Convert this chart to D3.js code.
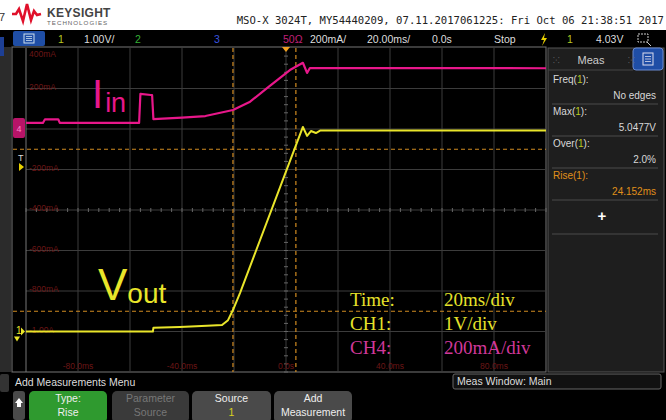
<!DOCTYPE html>
<html>
<head>
<meta charset="utf-8">
<script src="https://cdn.jsdelivr.net/npm/d3@7"></script>
<style>
	body { margin: 0; background: #fff; }
	svg { display: block; font-family: "Liberation Sans", Arial, sans-serif; }
</style>
</head>
<body>
<div id="scope"></div>
<script>
'use strict'
// traces (time in ms)
var iinTime = [-100, -93.5, -92.7, -87.6, -87.0, -56.5, -56.0, -52.0, -51.5, -51.0, -40, -31, -20.4, -13.8, -7.3, 1.5, 6.5, 8.1, 9.2, 100];
var iinMa = [30, 30, 48, 48, 30, 30, 173, 168, 168, 49, 56, 64, 94, 135, 202, 291, 327, 277, 301, 300];
var voutTime = [-100, -51.2, -51, -40.8, -30.4, -24.6, -22.3, -20.4, -17.7, 6.5, 8.1, 9.6, 11.5, 13.1, 100];
var voutV = [0, 0, 0.09, 0.11, 0.14, 0.16, 0.28, 0.53, 0.95, 5.05, 4.83, 4.95, 4.9, 4.96, 4.96];

var timeTicks = [-80, -40, 0, 40, 80];
var timeLabels = ["-80.0ms", "-40.0ms", "0.0s", "40.0ms", "80.0ms"];
var ch4Ticks = [400, 200, -200, -400, -600, -800, -1000];
var ch4Labels = ["400mA", "200mA", "-200mA", "-400mA", "-600mA", "-800mA", "-1.00A"];
var timeCursors = [-20.4, 3.8];
var voltCursors = [0.5, 4.5];

var noteKeys = ["Time:", "CH1:", "CH4:"];
var noteVals = ["20ms/div", "1V/div", "200mA/div"];

var measNames = ["Freq", "Max", "Over", "Rise"];
var measValues = ["No edges", "5.0477V", "2.0%", "24.152ms"];

var W = 666, H = 420;
var gx0 = 26, gx1 = 546, gy0 = 48, gy1 = 372;
var pink = "#e8178a", yellow = "#e9e52a", cursorCol = "#d08a20";

var x = d3.scaleLinear().domain([-100, 100]).range([gx0, gx1]);
var y1 = d3.scaleLinear().domain([-1, 7]).range([gy1, gy0]);
var y4 = d3.scaleLinear().domain([-1200, 400]).range([gy1, gy0]);

var svg = d3.select("#scope").append("svg").attr("width", W).attr("height", H);

// header
svg.append("rect").attr("width", W).attr("height", 30).attr("fill", "#fff");
svg.append("text").attr("x", -1).attr("y", 21).attr("font-size", 11).attr("fill", "#333").text("7");
svg.append("path")
	.attr("d", "M12,14 L16,14 L19,9 L23,21 L27,4 L31,20 L34,11 L37,15 L41,14")
	.attr("fill", "none").attr("stroke", "#e0102a").attr("stroke-width", 2.6).attr("stroke-linejoin", "miter");
svg.append("text").attr("x", 47).attr("y", 17).attr("font-size", 12).attr("font-weight", "bold")
	.attr("fill", "#444").attr("letter-spacing", 0.3).text("KEYSIGHT");
svg.append("text").attr("x", 47).attr("y", 24.5).attr("font-size", 6.2).attr("fill", "#666")
	.attr("letter-spacing", 1).text("TECHNOLOGIES");
svg.append("text").attr("x", 664).attr("y", 24).attr("text-anchor", "end")
	.attr("font-family", "DejaVu Sans Mono, monospace").attr("font-size", 10.6).attr("fill", "#222")
	.text("MSO-X 3024T, MY54440209, 07.11.2017061225: Fri Oct 06 21:38:51 2017");

// screen background
svg.append("rect").attr("y", 30).attr("width", W).attr("height", H - 30).attr("fill", "#000");
svg.append("rect").attr("x", 0).attr("y", 47).attr("width", 11).attr("height", 325).attr("fill", "#2b2b2b");
svg.append("rect").attr("x", 0).attr("y", 37).attr("width", 4).attr("height", 19).attr("fill", "#1d3f95");
svg.append("rect").attr("x", 0).attr("y", 374).attr("width", 9).attr("height", 18).attr("rx", 2).attr("fill", "#333");

// status bar
var sb = svg.append("g").attr("font-size", 10.5);
sb.append("rect").attr("x", 13).attr("y", 31).attr("width", 32).attr("height", 15).attr("rx", 2).attr("fill", "#1f4ea6");
sb.append("rect").attr("x", 24).attr("y", 34).attr("width", 10).attr("height", 9).attr("fill", "none").attr("stroke", "#cde").attr("stroke-width", 1);
[36.5, 38.5, 40.5].forEach(function(yy){
	sb.append("line").attr("x1", 26).attr("x2", 32).attr("y1", yy).attr("y2", yy).attr("stroke", "#cde").attr("stroke-width", 0.8);
});
var statusItems = [
	[58, "1", "#b8c820"], [84, "1.00V/", "#ddd"], [135, "2", "#35b035"], [214, "3", "#3a55e0"],
	[283, "50\u03A9", "#c0207a"], [310, "200mA/", "#ddd"], [367, "20.00ms/", "#ddd"],
	[432, "0.0s", "#ddd"], [494, "Stop", "#ddd"], [567, "1", "#b8c820"], [596, "4.03V", "#ddd"]
];
statusItems.forEach(function(s){
	sb.append("text").attr("x", s[0]).attr("y", 43).attr("fill", s[2]).text(s[1]);
});
sb.append("path").attr("d", "M545,33 L541,40 L544,40 L542,46 L547,38 L544,38 Z").attr("fill", "#e8d000");
sb.append("rect").attr("x", 638).attr("y", 34).attr("width", 10).attr("height", 8)
	.attr("fill", "none").attr("stroke", "#ccc").attr("stroke-dasharray", "2,1");
sb.append("path").attr("d", "M647,42 L651,46").attr("stroke", "#ccc");

// graticule
var grid = svg.append("g");
grid.append("rect").attr("x", 12).attr("y", 47).attr("width", gx1 - 12).attr("height", gy1 - 47)
	.attr("fill", "none").attr("stroke", "#777").attr("stroke-width", 1);
d3.range(-80, 100, 20).forEach(function(t){
	grid.append("line").attr("x1", x(t)).attr("x2", x(t)).attr("y1", gy0).attr("y2", gy1)
		.attr("stroke", "#3c3c3c").attr("stroke-width", 1);
});
d3.range(0, 7, 1).forEach(function(v){
	grid.append("line").attr("x1", gx0).attr("x2", gx1).attr("y1", y1(v)).attr("y2", y1(v))
		.attr("stroke", "#3c3c3c").attr("stroke-width", 1);
});
grid.append("line").attr("x1", gx0).attr("x2", gx0).attr("y1", gy0).attr("y2", gy1).attr("stroke", "#777");
// minor ticks on centre lines
d3.range(-100, 100.1, 4).forEach(function(t){
	grid.append("line").attr("x1", x(t)).attr("x2", x(t)).attr("y1", y1(3) - 2).attr("y2", y1(3) + 2).attr("stroke", "#666");
});
d3.range(-1, 7.01, 0.2).forEach(function(v){
	grid.append("line").attr("x1", x(0) - 2).attr("x2", x(0) + 2).attr("y1", y1(v)).attr("y2", y1(v)).attr("stroke", "#666");
});

// dim axis labels
var lab = svg.append("g").attr("font-size", 8.5).attr("fill", "#6b1616");
ch4Ticks.forEach(function(v, i){
	lab.append("text").attr("x", 29).attr("y", Math.max(y4(v) + 1, 57)).text(ch4Labels[i]);
});
timeTicks.forEach(function(t, i){
	lab.append("text").attr("x", x(t)).attr("y", 369).attr("text-anchor", "middle").text(timeLabels[i]);
});

// cursors
timeCursors.forEach(function(t){
	svg.append("line").attr("x1", x(t)).attr("x2", x(t)).attr("y1", gy0).attr("y2", gy1)
		.attr("stroke", cursorCol).attr("stroke-width", 1.2).attr("stroke-dasharray", "4,3");
});
voltCursors.forEach(function(v){
	svg.append("line").attr("x1", 13).attr("x2", gx1).attr("y1", y1(v)).attr("y2", y1(v))
		.attr("stroke", cursorCol).attr("stroke-width", 1.2).attr("stroke-dasharray", "4,3");
});
svg.append("path").attr("d", "M" + (x(0) - 4) + ",47 L" + (x(0) + 4) + ",47 L" + x(0) + ",52 Z").attr("fill", "#f0a020");

// traces
var lineI = d3.line().x(function(d){ return x(d[0]); }).y(function(d){ return y4(d[1]); });
var lineV = d3.line().x(function(d){ return x(d[0]); }).y(function(d){ return y1(d[1]); });
svg.append("path").datum(d3.zip(voutTime, voutV)).attr("d", lineV)
	.attr("fill", "none").attr("stroke", yellow).attr("stroke-width", 2).attr("stroke-linejoin", "round");
svg.append("path").datum(d3.zip(iinTime, iinMa)).attr("d", lineI)
	.attr("fill", "none").attr("stroke", pink).attr("stroke-width", 2.2).attr("stroke-linejoin", "round");

// channel markers
svg.append("rect").attr("x", 13).attr("y", y4(0) - 11).attr("width", 12).attr("height", 20).attr("rx", 2).attr("fill", "#b81468");
svg.append("text").attr("x", 19).attr("y", y4(0) + 3).attr("text-anchor", "middle").attr("font-size", 9).attr("fill", "#f8c").text("4");
svg.append("text").attr("x", 16).attr("y", y1(0) + 2).attr("font-size", 10).attr("fill", yellow).text("1");
svg.append("path").attr("d", "M21," + (y1(0) - 4) + " L25," + y1(0) + " L21," + (y1(0) + 4) + " Z").attr("fill", yellow);
svg.append("path").attr("d", "M14," + (y1(0) + 5) + " L20," + (y1(0) + 5) + " L17," + (y1(0) + 10) + " Z").attr("fill", yellow);
svg.append("text").attr("x", 18).attr("y", 161).attr("font-size", 9).attr("fill", "#ddd").text("T");
svg.append("path").attr("d", "M19,163 L24,167 L19,171 Z").attr("fill", "#e8d000");

// channel names
var iin = svg.append("text").attr("x", 92).attr("y", 108).attr("fill", pink);
iin.append("tspan").attr("font-size", 40).text("I");
iin.append("tspan").attr("font-size", 27).attr("dy", 4).attr("dx", 2).text("in");
var vout = svg.append("text").attr("x", 98).attr("y", 300).attr("fill", yellow);
vout.append("tspan").attr("font-size", 44).text("V");
vout.append("tspan").attr("font-size", 28).attr("dy", 3).text("out");

// scale note
var note = svg.append("g").attr("font-family", "Liberation Serif, Times New Roman, serif").attr("font-size", 19);
noteKeys.forEach(function(k, i){
	var c = i == 2 ? "#d0389a" : "#e6e22a";
	note.append("text").attr("x", 350).attr("y", 306 + i * 24).attr("fill", c).text(k);
	note.append("text").attr("x", 444).attr("y", 306 + i * 24).attr("fill", c).text(noteVals[i]);
});

// measurement panel
var mp = svg.append("g").attr("font-size", 10);
mp.append("rect").attr("x", 548).attr("y", 48).attr("width", 116).attr("height", 324).attr("fill", "#1e1e1e")
	.attr("stroke", "#555");
mp.append("rect").attr("x", 633).attr("y", 48).attr("width", 30).attr("height", 22).attr("rx", 3).attr("fill", "#1f4ea6").attr("stroke", "#6a8ad0");
mp.append("rect").attr("x", 643).attr("y", 53).attr("width", 10).attr("height", 12).attr("fill", "none").attr("stroke", "#dde");
[56.5, 59, 61.5].forEach(function(yy){
	mp.append("line").attr("x1", 645).attr("x2", 651).attr("y1", yy).attr("y2", yy).attr("stroke", "#dde").attr("stroke-width", 0.8);
});
mp.append("text").attr("x", 591).attr("y", 64).attr("text-anchor", "middle").attr("font-size", 11).attr("fill", "#ccc").text("Meas");
[553, 628].forEach(function(gxp){
	mp.append("text").attr("x", gxp).attr("y", 63).attr("font-size", 8).attr("fill", "#777").text("\u2059");
});
mp.append("line").attr("x1", 548).attr("x2", 633).attr("y1", 70).attr("y2", 70).attr("stroke", "#444");
measNames.forEach(function(n, i){
	var base = 83 + i * 32;
	var c = i == 3 ? "#e0901a" : "#d8d8d8";
	var t = mp.append("text").attr("x", 553).attr("y", base).attr("fill", c);
	t.append("tspan").text(n + "(");
	t.append("tspan").attr("fill", i == 3 ? "#e0901a" : "#b8c820").text("1");
	t.append("tspan").text("):");
	mp.append("text").attr("x", 656).attr("y", base + 16).attr("text-anchor", "end").attr("fill", c).text(measValues[i]);
	mp.append("line").attr("x1", 552).attr("x2", 658).attr("y1", base + 21).attr("y2", base + 21).attr("stroke", "#4a4a4a");
});
mp.append("text").attr("x", 602).attr("y", 221).attr("text-anchor", "middle").attr("font-size", 15).attr("font-weight", "bold").attr("fill", "#fff").text("+");
mp.append("line").attr("x1", 552).attr("x2", 658).attr("y1", 234).attr("y2", 234).attr("stroke", "#4a4a4a");

// bottom menu
var bm = svg.append("g").attr("font-size", 10.5);
bm.append("text").attr("x", 15).attr("y", 386).attr("fill", "#ddd").text("Add Measurements Menu");
bm.append("rect").attr("x", 453).attr("y", 374).attr("width", 208).attr("height", 15).attr("rx", 2)
	.attr("fill", "#111").attr("stroke", "#666");
bm.append("text").attr("x", 457).attr("y", 385).attr("fill", "#ddd").text("Meas Window: Main");
bm.append("rect").attr("x", 13).attr("y", 391).attr("width", 12).attr("height", 29).attr("rx", 3).attr("fill", "#4a4a4a");
bm.append("path").attr("d", "M19,398 L23,403 L21,403 L21,407 L17,407 L17,403 L15,403 Z").attr("fill", "#fff");
var buttons = [
	[29, 78, "#2f9a2f", "Type:", "Rise", "#eee", "#eee"],
	[112, 77, "#3a3a3a", "Parameter", "Source", "#777", "#777"],
	[192, 79, "#4a4a4a", "Source", "1", "#eee", "#d8d020"],
	[274, 78, "#4a4a4a", "Add", "Measurement", "#eee", "#eee"]
];
buttons.forEach(function(b){
	bm.append("rect").attr("x", b[0]).attr("y", 391).attr("width", b[1]).attr("height", 32).attr("rx", 5).attr("fill", b[2]);
	bm.append("text").attr("x", b[0] + b[1] / 2).attr("y", 402).attr("text-anchor", "middle").attr("fill", b[5]).text(b[3]);
	bm.append("text").attr("x", b[0] + b[1] / 2).attr("y", 416).attr("text-anchor", "middle").attr("fill", b[6]).text(b[4]);
});
</script>
</body>
</html>
